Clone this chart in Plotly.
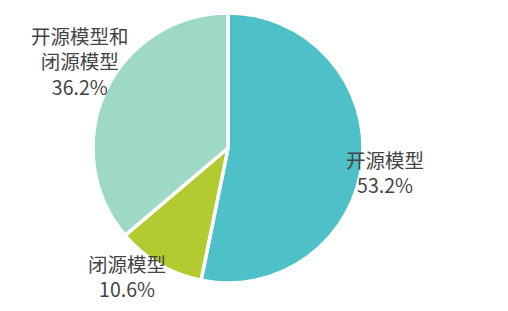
import math
import plotly.graph_objects as go

labels = ["开源模型", "闭源模型", "开源模型和<br>闭源模型"]
values = [53.2, 10.6, 36.2]
colors = ["#4DC0C8", "#B3CB30", "#9ED9C8"]

W, H = 508, 311
cx, cy, r = 228, 148, 135  # pie centre / radius in pixels

fig = go.Figure(go.Pie(
    labels=labels, values=values, sort=False, direction="clockwise", rotation=0,
    marker=dict(colors=colors, line=dict(color="white", width=3.5)),
    textinfo="none", hoverinfo="skip", showlegend=False,
    domain=dict(x=[(cx - r) / W, (cx + r) / W], y=[1 - (cy + r) / H, 1 - (cy - r) / H]),
))

total = sum(values)
start = 0.0
factors = [1.18, 1.21, 1.27]
ang_off = [3.0, 7.7, 5.6]  # degrees
for lab, v, f, da in zip(labels, values, factors, ang_off):
    mid = (start + v / 2) / total * 2 * math.pi + math.radians(da)
    start += v
    px = cx + f * r * math.sin(mid)
    py = cy - f * r * math.cos(mid)
    fig.add_annotation(
        x=px / W, y=1 - py / H, xref="paper", yref="paper",
        text=f"{lab}<br>{v:.1f}%", showarrow=False, align="center",
        xanchor="center", yanchor="middle",
        font=dict(family="Noto Sans CJK SC", size=19.5, color="#444444"),
    )

fig.update_layout(
    width=W, height=H, margin=dict(l=0, r=0, t=0, b=0),
    paper_bgcolor="white", plot_bgcolor="white",
)
fig.write_html("out.html")
